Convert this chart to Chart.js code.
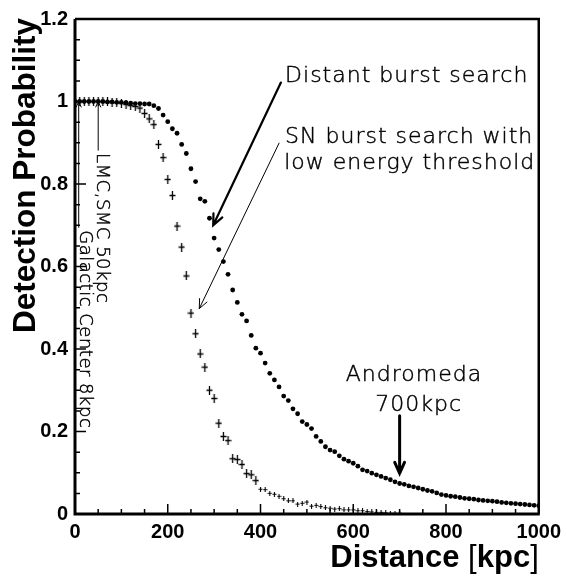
<!DOCTYPE html>
<html>
<head>
<meta charset="utf-8">
<script src="https://cdn.jsdelivr.net/npm/chart.js@4.4.0/dist/chart.umd.min.js"></script>
<style>
  html, body { margin: 0; padding: 0; background: #fff; }
</style>
</head>
<body>
<canvas id="probChart" width="567" height="580"></canvas>
<script>
// Distance bins (kpc)
const distances = [
  0, 10, 20, 30, 40, 50, 60, 70, 80, 90,
  100, 110, 120, 130, 140, 150, 160, 170, 180, 190,
  200, 210, 220, 230, 240, 250, 260, 270, 280, 290,
  300, 310, 320, 330, 340, 350, 360, 370, 380, 390,
  400, 410, 420, 430, 440, 450, 460, 470, 480, 490,
  500, 510, 520, 530, 540, 550, 560, 570, 580, 590,
  600, 610, 620, 630, 640, 650, 660, 670, 680, 690,
  700, 710, 720, 730, 740, 750, 760, 770, 780, 790,
  800, 810, 820, 830, 840, 850, 860, 870, 880, 890,
  900, 910, 920, 930, 940, 950, 960, 970, 980, 990,
  1000
];

// Distant burst search (dots)
const distantBurst = [
  1.000, 1.000, 1.000, 1.000, 1.000, 1.000, 1.000, 0.999, 0.999, 0.998,
  0.998, 0.997, 0.996, 0.995, 0.995, 0.994, 0.994, 0.990, 0.983, 0.967,
  0.951, 0.934, 0.923, 0.896, 0.874, 0.837, 0.806, 0.764, 0.758, 0.717,
  0.669, 0.641, 0.612, 0.581, 0.543, 0.513, 0.484, 0.468, 0.433, 0.402,
  0.390, 0.366, 0.341, 0.325, 0.308, 0.286, 0.275, 0.255, 0.243, 0.224,
  0.217, 0.207, 0.188, 0.176, 0.163, 0.155, 0.151, 0.141, 0.133, 0.128,
  0.123, 0.116, 0.107, 0.104, 0.099, 0.095, 0.091, 0.087, 0.083, 0.078,
  0.074, 0.072, 0.068, 0.066, 0.063, 0.060, 0.057, 0.055, 0.051, 0.047,
  0.045, 0.043, 0.042, 0.040, 0.038, 0.037, 0.036, 0.034, 0.033, 0.032,
  0.031, 0.030, 0.028, 0.027, 0.026, 0.025, 0.024, 0.023, 0.022, 0.021,
  0.020
];

// SN burst search with low energy threshold (crosses), 0..700 kpc
const snBurst = [
  1.000, 1.000, 1.000, 1.000, 1.000, 1.000, 0.999, 0.999, 0.998, 0.997,
  0.996, 0.993, 0.990, 0.988, 0.984, 0.971, 0.958, 0.944, 0.896, 0.864,
  0.811, 0.772, 0.698, 0.647, 0.577, 0.487, 0.437, 0.388, 0.356, 0.300,
  0.280, 0.220, 0.188, 0.178, 0.134, 0.132, 0.120, 0.098, 0.095, 0.081,
  0.060, 0.059, 0.050, 0.048, 0.043, 0.037, 0.032, 0.032, 0.024, 0.026,
  0.029, 0.019, 0.021, 0.018, 0.015, 0.014, 0.012, 0.013, 0.010, 0.010,
  0.010, 0.008, 0.008, 0.006, 0.005, 0.004, 0.004, 0.003, 0.002, 0.002,
  0.002
];

const xTicks = [0, 200, 400, 600, 800, 1000];
const yTicks = [0, 0.2, 0.4, 0.6, 0.8, 1, 1.2];

const xTitle = ["Distance ", "[", "kpc", "]"];
const yTitle = "Detection Probability";

// annotation texts, anchored in data coordinates
const notes = [
  { text: "Distant burst search", x: 453, y: 1.048, align: "left" },
  { text: "SN burst search with", x: 453, y: 0.899, align: "left" },
  { text: "low energy threshold", x: 451, y: 0.837, align: "left" },
  { text: "Andromeda", x: 731, y: 0.322, align: "center" },
  { text: "700kpc", x: 741, y: 0.25, align: "center" },
  { text: "LMC,SMC 50kpc", x: 47, y: 0.875, align: "left", vertical: true },
  { text: "Galactic Center 8kpc", x: 10.7, y: 0.688, align: "left", vertical: true }
];

const arrows = [
  { from: [444, 1.046], to: [298, 0.70], width: 2.2, head: 12 },
  { from: [440, 0.899], to: [268, 0.498], width: 1, head: 10 },
  { from: [700, 0.238], to: [700, 0.0986], width: 3, head: 12 },
  { from: [50, 0.882], to: [50, 1.0], width: 1, head: 6 },
  { from: [8, 0.695], to: [8, 1.0], width: 1, head: 6 }
];

function toPoints(xs, ys) {
  return ys.map((v, i) => ({ x: xs[i], y: v }));
}

// plus marker with a taller vertical bar (error bar look)
function crossMarker(w, h, lw) {
  const c = document.createElement("canvas");
  c.width = w; c.height = h;
  const g = c.getContext("2d");
  g.strokeStyle = "#000";
  g.lineWidth = lw;
  g.beginPath();
  g.moveTo(w / 2, 0); g.lineTo(w / 2, h);
  g.moveTo(0.5, h / 2); g.lineTo(w - 0.5, h / 2);
  g.stroke();
  return c;
}
const bigCross = crossMarker(7, 9, 1.3);
const smallCross = crossMarker(5, 5, 1.1);

const thinFont = '200 22px "DejaVu Sans"';
const vertFont = '200 18px "DejaVu Sans"';

function drawArrow(ctx, x1, y1, x2, y2, w, head) {
  const ang = Math.atan2(y2 - y1, x2 - x1);
  const spread = 0.42;
  ctx.save();
  ctx.strokeStyle = "#000";
  ctx.lineWidth = w;
  ctx.lineCap = "round";
  ctx.beginPath();
  ctx.moveTo(x1, y1);
  ctx.lineTo(x2, y2);
  ctx.moveTo(x2 - head * Math.cos(ang - spread), y2 - head * Math.sin(ang - spread));
  ctx.lineTo(x2, y2);
  ctx.lineTo(x2 - head * Math.cos(ang + spread), y2 - head * Math.sin(ang + spread));
  ctx.stroke();
  ctx.restore();
}

// thin text, slightly stroked so it reads black
function thinText(ctx, text, x, y) {
  ctx.fillText(text, x, y);
  ctx.lineWidth = 0.45;
  ctx.strokeText(text, x, y);
}

const framePlugin = {
  id: "framePlugin",
  afterDatasetsDraw(chart) {
    const ctx = chart.ctx;
    const a = chart.chartArea;
    const xs = chart.scales.x, ys = chart.scales.y;
    ctx.save();
    ctx.strokeStyle = "#000";

    // inward ticks, major + minor
    ctx.lineWidth = 1.5;
    ctx.beginPath();
    for (let v = 0; v <= 1000.001; v += 50) {
      const px = xs.getPixelForValue(v);
      const len = (v % 200 === 0) ? 10 : 5;
      ctx.moveTo(px, a.bottom);
      ctx.lineTo(px, a.bottom - len);
    }
    for (let i = 0; i <= 24; i++) {
      const py = ys.getPixelForValue(i * 0.05);
      const len = (i % 4 === 0) ? 11 : 5;
      ctx.moveTo(a.left, py);
      ctx.lineTo(a.left + len, py);
    }
    ctx.stroke();

    // frame
    ctx.lineWidth = 2.5;
    ctx.beginPath();
    ctx.moveTo(a.left, a.top);
    ctx.lineTo(a.right, a.top);
    ctx.lineTo(a.right, a.bottom);
    ctx.stroke();
    ctx.lineWidth = 3;
    ctx.beginPath();
    ctx.moveTo(a.left, a.top);
    ctx.lineTo(a.left, a.bottom);
    ctx.lineTo(a.right + 1, a.bottom);
    ctx.stroke();

    // arrows
    arrows.forEach(ar => {
      drawArrow(ctx,
        xs.getPixelForValue(ar.from[0]), ys.getPixelForValue(ar.from[1]),
        xs.getPixelForValue(ar.to[0]), ys.getPixelForValue(ar.to[1]),
        ar.width, ar.head);
    });

    // annotation text
    ctx.fillStyle = "#000";
    ctx.textBaseline = "alphabetic";
    notes.forEach(n => {
      const px = xs.getPixelForValue(n.x), py = ys.getPixelForValue(n.y);
      ctx.save();
      ctx.textAlign = n.align;
      if (n.vertical) {
        ctx.font = vertFont;
        ctx.letterSpacing = "0.5px";
        ctx.translate(px, py);
        ctx.rotate(Math.PI / 2);
        thinText(ctx, n.text, 0, 0);
      } else {
        ctx.font = thinFont;
        ctx.letterSpacing = "1px";
        thinText(ctx, n.text, px, py);
      }
      ctx.restore();
    });

    // y title, right aligned to top of axis
    ctx.save();
    ctx.font = 'bold 31.5px "Liberation Sans", Arial, sans-serif';
    ctx.translate(35, 18);
    ctx.rotate(-Math.PI / 2);
    ctx.textAlign = "right";
    ctx.fillText(yTitle, 0, 0);
    ctx.restore();

    // x title, bold words with plain brackets
    const boldF = 'bold 31px "Liberation Sans", Arial, sans-serif';
    const normF = '31px "Liberation Sans", Arial, sans-serif';
    const fonts = [boldF, normF, boldF, normF];
    let total = 0;
    const widths = xTitle.map((t, i) => { ctx.font = fonts[i]; const w = ctx.measureText(t).width; total += w; return w; });
    let cx = a.right - total;
    ctx.textAlign = "left";
    xTitle.forEach((t, i) => {
      ctx.font = fonts[i];
      ctx.fillText(t, cx, 567);
      cx += widths[i];
    });

    ctx.restore();
  }
};

const tickFont = { family: '"Liberation Sans", Arial, sans-serif', size: 20, weight: "bold" };

new Chart(document.getElementById("probChart"), {
  type: "scatter",
  data: {
    datasets: [
      {
        label: "Distant burst search",
        data: toPoints(distances, distantBurst),
        pointStyle: "circle",
        pointRadius: 2.4,
        backgroundColor: "#000",
        borderWidth: 0
      },
      {
        label: "SN burst search with low energy threshold",
        data: toPoints(distances, snBurst),
        // error bars shrink in the tail, so the markers do too
        pointStyle: c => (c.raw && c.raw.y < 0.07 ? smallCross : bigCross),
        pointRadius: 4,
        backgroundColor: "#000",
        borderColor: "#000"
      }
    ]
  },
  options: {
    responsive: false,
    animation: false,
    devicePixelRatio: 1,
    layout: { padding: { left: 0, top: 15, right: 26, bottom: 0 } },
    plugins: {
      legend: { display: false },
      tooltip: { enabled: false }
    },
    scales: {
      x: {
        type: "linear",
        min: 0,
        max: 1000,
        afterBuildTicks: s => { s.ticks = xTicks.map(v => ({ value: v })); },
        afterFit: s => { s.height = 66; },
        grid: { display: false, drawTicks: false },
        border: { display: false },
        ticks: { font: tickFont, color: "#000", padding: 6, maxRotation: 0, autoSkip: false,
                 callback: v => String(v) }
      },
      y: {
        type: "linear",
        min: 0,
        max: 1.2,
        afterBuildTicks: s => { s.ticks = yTicks.map(v => ({ value: v })); },
        afterFit: s => { s.width = 75; },
        grid: { display: false, drawTicks: false },
        border: { display: false },
        ticks: { font: tickFont, color: "#000", padding: 7, autoSkip: false,
                 callback: v => String(v) }
      }
    }
  },
  plugins: [framePlugin]
});
</script>
</body>
</html>
